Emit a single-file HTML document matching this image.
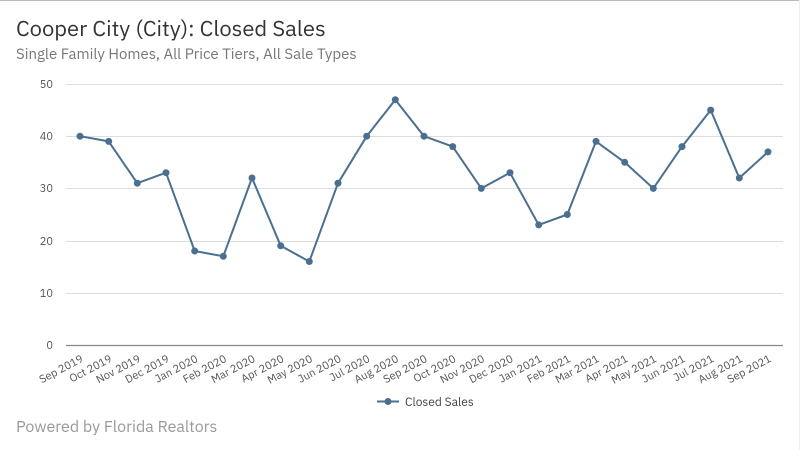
<!DOCTYPE html>
<html><head><meta charset="utf-8"><style>
html,body{margin:0;padding:0;background:#fff}
svg{display:block;font-family:"IBM Plex Sans","Liberation Sans",sans-serif}
</style></head><body>
<svg width="800" height="450" viewBox="0 0 800 450" xmlns="http://www.w3.org/2000/svg">
<rect x="0" y="0" width="800" height="450" fill="#fff"/>
<line x1="0" y1="0.5" x2="800" y2="0.5" stroke="#bbb"/>
<line x1="799.5" y1="0" x2="799.5" y2="450" stroke="#eee"/>
<text x="16" y="36" font-size="22" fill="#333">Cooper City (City): Closed Sales</text>
<text x="16" y="59" font-size="15" fill="#777">Single Family Homes, All Price Tiers, All Sale Types</text>
<g stroke="#ddd" stroke-width="1">
<line x1="66" y1="84.5" x2="783" y2="84.5"/>
<line x1="66" y1="136.5" x2="783" y2="136.5"/>
<line x1="66" y1="188.5" x2="783" y2="188.5"/>
<line x1="66" y1="241.5" x2="783" y2="241.5"/>
<line x1="66" y1="293.5" x2="783" y2="293.5"/>
</g>
<line x1="66" y1="345.5" x2="783" y2="345.5" stroke="#888" stroke-width="1.2"/>
<g font-size="11" fill="#555" text-anchor="end">
<text x="53" y="88">50</text><text x="53" y="140">40</text><text x="53" y="192">30</text>
<text x="53" y="245">20</text><text x="53" y="297">10</text><text x="53" y="349">0</text>
</g>
<polyline fill="none" stroke="#4a6f91" stroke-width="2" stroke-linejoin="round" points="80,136.2 108.7,141.4 137.3,183.2 166,172.7 194.7,251 223.3,256.3 252,178 280.7,245.8 309.3,261.5 338,183.2 366.7,136.2 395.3,99.7 424,136.2 452.7,146.6 481.3,188.4 510,172.7 538.7,224.9 567.3,214.5 596,141.4 624.7,162.3 653.3,188.4 682,146.6 710.7,110.1 739.3,178 768,151.9"/>
<g fill="#4a6f91">
<circle cx="80" cy="136.2" r="3.5"/><circle cx="108.7" cy="141.4" r="3.5"/><circle cx="137.3" cy="183.2" r="3.5"/><circle cx="166" cy="172.7" r="3.5"/><circle cx="194.7" cy="251" r="3.5"/><circle cx="223.3" cy="256.3" r="3.5"/><circle cx="252" cy="178" r="3.5"/><circle cx="280.7" cy="245.8" r="3.5"/><circle cx="309.3" cy="261.5" r="3.5"/><circle cx="338" cy="183.2" r="3.5"/><circle cx="366.7" cy="136.2" r="3.5"/><circle cx="395.3" cy="99.7" r="3.5"/><circle cx="424" cy="136.2" r="3.5"/><circle cx="452.7" cy="146.6" r="3.5"/><circle cx="481.3" cy="188.4" r="3.5"/><circle cx="510" cy="172.7" r="3.5"/><circle cx="538.7" cy="224.9" r="3.5"/><circle cx="567.3" cy="214.5" r="3.5"/><circle cx="596" cy="141.4" r="3.5"/><circle cx="624.7" cy="162.3" r="3.5"/><circle cx="653.3" cy="188.4" r="3.5"/><circle cx="682" cy="146.6" r="3.5"/><circle cx="710.7" cy="110.1" r="3.5"/><circle cx="739.3" cy="178" r="3.5"/><circle cx="768" cy="151.9" r="3.5"/>
</g>
<g font-size="11" fill="#555" text-anchor="end">
<text transform="translate(84,361) rotate(-28)">Sep 2019</text>
<text transform="translate(112.7,361) rotate(-28)">Oct 2019</text>
<text transform="translate(141.3,361) rotate(-28)">Nov 2019</text>
<text transform="translate(170,361) rotate(-28)">Dec 2019</text>
<text transform="translate(198.7,361) rotate(-28)">Jan 2020</text>
<text transform="translate(227.3,361) rotate(-28)">Feb 2020</text>
<text transform="translate(256,361) rotate(-28)">Mar 2020</text>
<text transform="translate(284.7,361) rotate(-28)">Apr 2020</text>
<text transform="translate(313.3,361) rotate(-28)">May 2020</text>
<text transform="translate(342,361) rotate(-28)">Jun 2020</text>
<text transform="translate(370.7,361) rotate(-28)">Jul 2020</text>
<text transform="translate(399.3,361) rotate(-28)">Aug 2020</text>
<text transform="translate(428,361) rotate(-28)">Sep 2020</text>
<text transform="translate(456.7,361) rotate(-28)">Oct 2020</text>
<text transform="translate(485.3,361) rotate(-28)">Nov 2020</text>
<text transform="translate(514,361) rotate(-28)">Dec 2020</text>
<text transform="translate(542.7,361) rotate(-28)">Jan 2021</text>
<text transform="translate(571.3,361) rotate(-28)">Feb 2021</text>
<text transform="translate(600,361) rotate(-28)">Mar 2021</text>
<text transform="translate(628.7,361) rotate(-28)">Apr 2021</text>
<text transform="translate(657.3,361) rotate(-28)">May 2021</text>
<text transform="translate(686,361) rotate(-28)">Jun 2021</text>
<text transform="translate(714.7,361) rotate(-28)">Jul 2021</text>
<text transform="translate(743.3,361) rotate(-28)">Aug 2021</text>
<text transform="translate(772,361) rotate(-28)">Sep 2021</text>
</g>
<line x1="377" y1="401.5" x2="399" y2="401.5" stroke="#4a6f91" stroke-width="2"/>
<circle cx="388" cy="401.5" r="3.5" fill="#4a6f91"/>
<text x="405" y="406" font-size="12" fill="#444">Closed Sales</text>
<text x="16" y="432" font-size="16" fill="#999">Powered by Florida Realtors</text>
</svg>
</body></html>
